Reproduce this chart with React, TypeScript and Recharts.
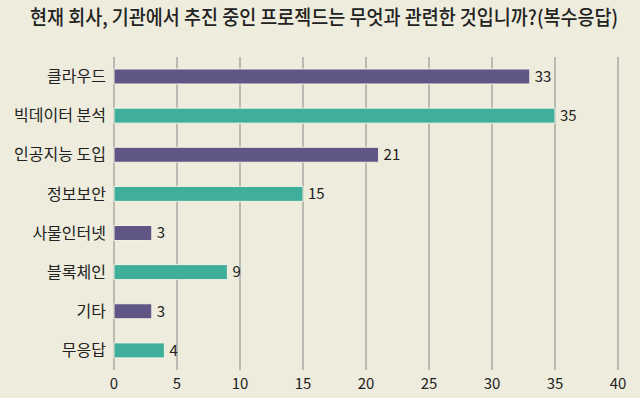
import React, { useLayoutEffect, useRef, useState } from "react";
import { BarChart, Bar, XAxis, YAxis, CartesianGrid, Cell, LabelList } from "recharts";

const title = "현재 회사, 기관에서 추진 중인 프로젝드는 무엇과 관련한 것입니까?(복수응답)";
const categories = ["클라우드", "빅데이터 분석", "인공지능 도입", "정보보안", "사물인터넷", "블록체인", "기타", "무응답"];
const values = [33, 35, 21, 15, 3, 9, 3, 4];
const xTicks = [0, 5, 10, 15, 20, 25, 30, 35, 40];
const colors = ["#5f5685", "#3faf9b"];

const data = categories.map((c, i) => ({ name: c, value: values[i] }));
const FONT = "'Noto Sans CJK KR', 'Noto Sans', sans-serif";
const TITLE_WIDTH = 588;

function Title() {
  const ref = useRef<SVGTextElement>(null);
  const [sx, setSx] = useState(0.9);
  useLayoutEffect(() => {
    if (ref.current) {
      const w = ref.current.getComputedTextLength();
      if (w > 0) setSx(TITLE_WIDTH / w);
    }
  }, []);
  return (
    <svg width={640} height={56} style={{ position: "absolute", left: 0, top: 0 }}>
      <g transform={`translate(30,25) scale(${sx},1)`}>
        <text ref={ref} x={0} y={0} fontFamily={FONT} fontSize={20} fontWeight={500} fill="#222">
          {title}
        </text>
      </g>
    </svg>
  );
}

export default function App() {
  return (
    <div style={{ position: "absolute", left: 0, top: 0, width: 640, height: 398, background: "#eeecdc" }}>
      <div style={{ position: "absolute", left: 0, top: 0 }}>
        <BarChart
          width={640}
          height={398}
          data={data}
          layout="vertical"
          margin={{ top: 57, right: 22, bottom: 0, left: 0 }}
          barCategoryGap={12}
        >
          <CartesianGrid horizontal={false} stroke="#a9a8a4" strokeWidth={1.5} />
          <XAxis
            type="number"
            domain={[0, 40]}
            ticks={xTicks}
            axisLine={false}
            tickLine={false}
            height={28}
            interval={0}
            tick={{ fill: "#222", fontSize: 15, fontFamily: FONT }}
          />
          <YAxis
            type="category"
            dataKey="name"
            width={114}
            axisLine={false}
            tickLine={false}
            interval={0}
            tick={{ fill: "#222", fontSize: 16, fontFamily: FONT }}
          />
          <Bar dataKey="value" barSize={15} isAnimationActive={false} stroke="#f3f1e4" strokeWidth={1}>
            {data.map((d, i) => (
              <Cell key={d.name} fill={colors[i % 2]} />
            ))}
            <LabelList dataKey="value" position="right" offset={5} fill="#222" fontSize={15} fontFamily={FONT} />
          </Bar>
        </BarChart>
      </div>
      <Title />
    </div>
  );
}
